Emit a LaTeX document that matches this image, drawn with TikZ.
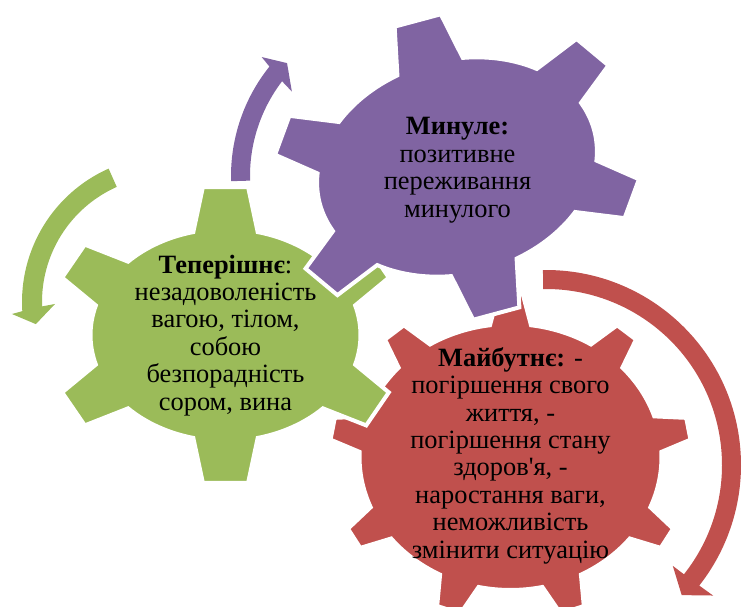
\documentclass[tikz,border=0pt]{standalone}
\usepackage{fontspec}
\setmainfont{Liberation Serif}
\newfontfamily\rawserif{Liberation Serif}[Ligatures=TeXOff]
\definecolor{gpurple}{RGB}{128,100,162}
\definecolor{ggreen}{RGB}{155,187,89}
\definecolor{gred}{RGB}{192,80,77}
% #1 style, #2 teeth, #3 first tooth angle, #4 rw, #5 rh, #6 RW, #7 RH, #8 base half-angle, #9 tip half-angle
\newcommand\drawgear[9]{%
  \pgfmathsetmacro\gstep{360/#2}%
  \path[#1] ({#3-#8}:#4 and #5)
  \foreach \k in {1,...,#2}{
    -- ({#3+(\k-1)*\gstep-#9}:#6 and #7)
    -- ({#3+(\k-1)*\gstep+#9}:#6 and #7)
    -- ({#3+(\k-1)*\gstep+#8}:#4 and #5)
    arc[start angle={#3+(\k-1)*\gstep+#8}, end angle={#3+\k*\gstep-#8}, x radius=#4, y radius=#5]
  } -- cycle;
}
\begin{document}
\begin{tikzpicture}[x=1pt,y=-1pt,
  gearline/.style={draw=white, line width=4pt, line join=miter},
  txt/.style={align=center, inner sep=0pt, font=\fontsize{26.4}{27.4}\selectfont}]
\useasboundingbox (0,0) rectangle (742,607);
% red gear (future)
\begin{scope}[shift={(510.5,457)}]
  \drawgear{gearline, fill=gred}{9}{30}{151}{133}{181}{163}{7.8}{3.9}
\end{scope}
% green gear (present)
\begin{scope}[shift={(225.5,335)}]
  \drawgear{gearline, fill=ggreen}{6}{30}{135}{106}{177}{149}{13.8}{7.35}
\end{scope}
% purple gear (past)
\begin{scope}[shift={(457,167)}, rotate=15]
  \drawgear{gearline, fill=gpurple}{6}{30}{142}{107}{187}{153}{13.8}{7.35}
\end{scope}
% circular arrows
\begin{scope}[shift={(406,176)}]
  \fill[gpurple] (178.3:175) arc[start angle=178.3, end angle=218.7, radius=175]
    -- (219.5:187) -- (223.5:164) -- (216.5:142) -- (217.4:156)
    arc[start angle=217.4, end angle=178.3, radius=156] -- cycle;
\end{scope}
\begin{scope}[shift={(168,302)}]
  \fill[ggreen] (246:146) arc[start angle=246, end angle=176.4, radius=146]
    -- (175.6:156.5) -- (170.5:134) -- (179:113) -- (178:126)
    arc[start angle=178, end angle=246, radius=126] -- cycle;
\end{scope}
\begin{scope}[shift={(546,465)}]
  \fill[gred] (269.1:195) arc[start angle=269.1, end angle=398.2, radius=195]
    -- (398:212) -- (403.8:188) -- (398.5:162) -- (398.4:176)
    arc[start angle=398.4, end angle=269.1, radius=176] -- cycle;
\end{scope}
% texts (base anchor = baseline of the last line)
\node[txt, anchor=base] (past) at (457.5,217)
  {\textbf{Минуле:}\\позитивне\\переживання\\минулого};
\node[txt, anchor=base] (present) at (225.5,410)
  {\textbf{Теперішнє}:\\незадоволеність\\вагою, тілом,\\собою\\безпорадність\\сором, вина};
\node[txt, anchor=base] (future) at (510.5,558)
  {\textbf{Майбутнє:} -\\погіршення свого\\життя, -\\погіршення стану\\здоров{\rawserif'}я, -\\наростання ваги,\\неможливість\\змінити ситуацію};
\end{tikzpicture}
\end{document}
